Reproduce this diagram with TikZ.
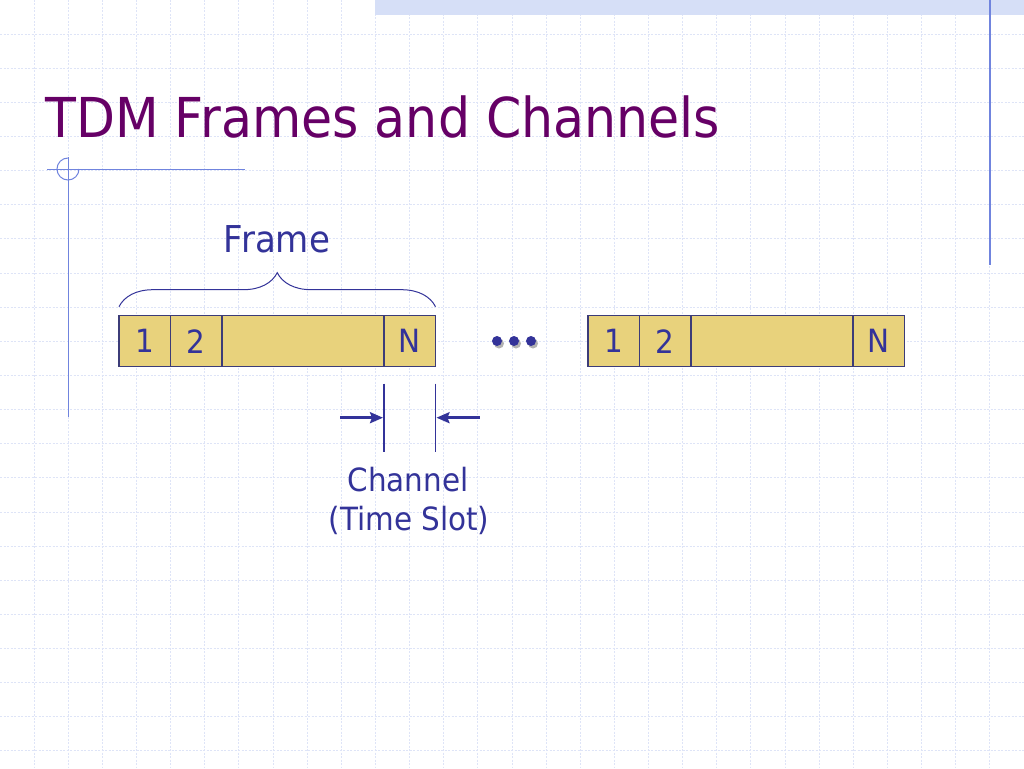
\documentclass[tikz,border=0pt]{standalone}
\usepackage{fontspec}
\setmainfont{DejaVu Sans}[FakeStretch=0.92]
\usetikzlibrary{positioning,arrows.meta,decorations.pathreplacing}
\definecolor{titlepurple}{RGB}{102,0,102}
\definecolor{bodyblue}{RGB}{51,51,153}
\definecolor{slotfill}{RGB}{232,210,124}
\definecolor{slotline}{RGB}{60,60,120}
\definecolor{decoblue}{RGB}{112,132,222}
\definecolor{gridblue}{RGB}{222,228,247}
\definecolor{stripblue}{RGB}{214,223,247}
\begin{document}
\begin{tikzpicture}[x=1pt,y=-1pt]
% size of one slot
\def\sz{51.5pt}
% grid spacing
\def\gs{34.1333}
% node style definition
\tikzstyle{slot} = [
	draw=slotline, fill=slotfill, rectangle, line width=1.3pt,
	minimum height=51pt, minimum width=\sz, inner sep=0pt, outer sep=0pt,
	text=bodyblue, font=\fontsize{32}{38}\selectfont ];
\tikzstyle{plain} = [draw=none, fill=none, inner sep=0pt, text=bodyblue,
	font=\fontsize{32}{38}\selectfont];
\tikzstyle{gridline} = [gridblue, line width=0.9pt, dash pattern=on 2pt off 1.5pt];
\tikzstyle{deco} = [decoblue, line width=1pt];
\tikzstyle{framebrace} = [bodyblue, line width=1pt,
	decorate, decoration={brace, amplitude=34pt}];
\tikzstyle{slotmark} = [bodyblue, line width=1.3pt];
\tikzstyle{pointer} = [bodyblue, line width=2.5pt,
	-{Stealth[length=13pt, width=11pt, inset=2pt]}];
% background and page size
\fill[white] (0,0) rectangle (1024,768);
\useasboundingbox (0,0) rectangle (1024,768);
\foreach \i in {1,...,29}
	\draw[gridline] (\i*\gs,0) -- (\i*\gs,768);
\foreach \j in {1,...,22}
	\draw[gridline] (0,\j*\gs) -- (1024,\j*\gs);
% slide decoration
\fill[stripblue] (375,0) rectangle (1024,15);
\draw[decoblue, line width=1.5pt] (990,0) -- (990,265);
\draw[deco] (47,169) -- (245,169);
\draw[deco] (68,157) -- (68,417);
\draw[deco] (68,158) arc[start angle=90, end angle=360, radius=11pt];
% title
\node[plain, text=titlepurple, font=\fontsize{55}{66}\selectfont,
	anchor=base west] (title) at (45,137) {TDM Frames and Channels};
% two frames of slots
\foreach \fx/\fn in {119/a, 588/b}
{
	\node[slot, anchor=west] (\fn1) at (\fx,341.2) {1};
	\node[slot, right=0pt of \fn1] (\fn2) {2};
	\node[slot, minimum width=162pt, right=0pt of \fn2] (\fn3) {};
	\node[slot, right=0pt of \fn3] (\fn4) {N};
}
% frame brace
\draw[framebrace] ([yshift=9pt]a1.north west) -- ([yshift=9pt]a4.north east);
\node[plain, font=\fontsize{37}{44}\selectfont, anchor=base] (framelbl)
	at (277,252) {Frame};
% dots between frames
\foreach \x in {497,514,531}
{
	\fill[black!30] (\x+2,343.5) circle[radius=5pt];
	\fill[bodyblue] (\x,341) circle[radius=5pt];
}
% one channel
\coordinate (chl) at ([yshift=-51pt]a4.south west);
\coordinate (chr) at ([yshift=-51pt]a4.south east);
\draw[slotmark] ([yshift=-17pt]a4.south west) -- ++(0,68);
\draw[slotmark] ([yshift=-17pt]a4.south east) -- ++(0,68);
\draw[pointer] ([xshift=-44pt]chl) -- ([xshift=-1pt]chl);
\draw[pointer] ([xshift=44pt]chr) -- ([xshift=1pt]chr);
\node[plain, anchor=base] (chan) at (408,491) {Channel};
\node[plain, anchor=base] (slotlbl) at (409,530) {(Time Slot)};
\end{tikzpicture}
\end{document}
